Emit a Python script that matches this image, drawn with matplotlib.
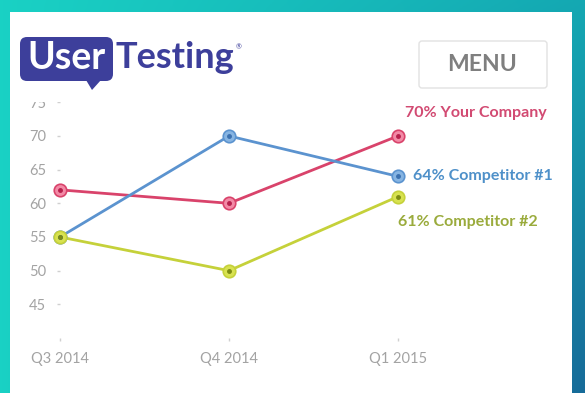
import numpy as np
import matplotlib
matplotlib.use('Agg')
import matplotlib.pyplot as plt
from matplotlib.patches import FancyBboxPatch, Polygon

# Data
quarters = ['Q3 2014', 'Q4 2014', 'Q1 2015']
your_company = [62, 60, 70]
competitor_1 = [55, 70, 64]
competitor_2 = [55, 50, 61]
series_names = ['Your Company', 'Competitor #1', 'Competitor #2']
y_ticks = [45, 50, 55, 60, 65, 70, 75]

W, H = 585, 393
plt.rcParams['font.family'] = ['Lato', 'DejaVu Sans']

fig = plt.figure(figsize=(W / 100, H / 100), dpi=100)

# Background gradient (pixel coordinates)
bg = fig.add_axes([0, 0, 1, 1])
bg.set_xlim(0, W)
bg.set_ylim(H, 0)
bg.axis('off')
gx = np.linspace(0, 1, 200)
gy = np.linspace(0, 1, 200)
X, Y = np.meshgrid(gx, gy)
c_left = np.array([0.10, 0.82, 0.77])
c_right_top = np.array([0.08, 0.66, 0.70])
c_right_bot = np.array([0.09, 0.42, 0.60])
c_right = c_right_top[None, None, :] * (1 - Y[..., None]) + c_right_bot[None, None, :] * Y[..., None]
img = c_left[None, None, :] * (1 - X[..., None]) + c_right * X[..., None]
bg.imshow(img, extent=[0, W, H, 0], aspect='auto', zorder=0)
# white card
bg.add_patch(plt.Rectangle((10, 12), 562, H - 12, facecolor='white', edgecolor='none', zorder=1))

# Chart axes
px_left, px_right = 60, 398
px_top, px_bot = 102.3, 338
ax = fig.add_axes([px_left / W, (H - px_bot) / H, (px_right - px_left) / W, (px_bot - px_top) / H])
ax.set_zorder(2)
ax.patch.set_alpha(0)
ax.set_xlim(0, len(quarters) - 1)
ax.set_ylim(40, 75)
for s in ax.spines.values():
    s.set_visible(False)
ax.set_xticks(range(len(quarters)))
ax.set_xticklabels(quarters)
ax.set_yticks(y_ticks)
ax.tick_params(axis='both', colors='#d0d0d0', labelcolor='#a3a3a3', labelsize=10.5, length=2, width=1)
ax.tick_params(axis='y', pad=8)
ax.tick_params(axis='x', pad=8)

x = np.arange(len(quarters))
line_colors = ['#d9436b', '#5b93cf', '#c5d13a']
fill_colors = ['#f28aa6', '#86b4e2', '#d8e250']
dot_colors = ['#b8204c', '#3a70b0', '#7d8c12']
label_colors = ['#d24a72', '#4e90c9', '#9aab3c']
offsets = [(5, 16.5), (11, 0), (0, -18)]

for i, vals in enumerate([your_company, competitor_1, competitor_2]):
    ax.plot(x, vals, color=line_colors[i], lw=2, zorder=3, clip_on=False, solid_capstyle='round')
    ax.plot(x, vals, 'o', ms=9, mfc=fill_colors[i], mec=line_colors[i], mew=1.2,
            zorder=4, clip_on=False)
    ax.plot(x, vals, 'o', ms=2.5, color=dot_colors[i], zorder=5, clip_on=False)
    ax.annotate(f'{vals[-1]}% {series_names[i]}', xy=(x[-1], vals[-1]),
                xytext=offsets[i], textcoords='offset points', ha='left', va='center',
                fontsize=11.5, fontweight='bold', color=label_colors[i], annotation_clip=False)

# Header (covers top of chart)
hdr = fig.add_axes([10 / W, (H - 102) / H, 562 / W, 90 / H])
hdr.set_zorder(3)
hdr.set_xlim(10, 572)
hdr.set_ylim(102, 12)
hdr.set_facecolor('white')
for s in hdr.spines.values():
    s.set_visible(False)
hdr.set_xticks([])
hdr.set_yticks([])

indigo = '#3d3f9b'
hdr.add_patch(FancyBboxPatch((20, 37), 93, 44, boxstyle='round,pad=0,rounding_size=7',
                             facecolor=indigo, edgecolor='none'))
hdr.add_patch(Polygon([[86, 80], [101, 80], [92, 90]], closed=True, facecolor=indigo, edgecolor='none'))
hdr.text(66, 58, 'User', color='white', fontsize=27, fontweight='bold', ha='center', va='center')
hdr.text(116, 58, 'Testing', color=indigo, fontsize=26, fontweight='bold', ha='left', va='center')
hdr.text(236, 47, '®', color=indigo, fontsize=5, ha='left', va='center')

hdr.add_patch(FancyBboxPatch((419, 41), 128, 47, boxstyle='round,pad=0,rounding_size=3',
                             facecolor='white', edgecolor='#e2e2e2', lw=1))
hdr.text(482, 64.5, 'MENU', color='#7f7f7f', fontsize=16.5, fontweight='bold', ha='center', va='center')

fig.savefig('out.png', dpi=100)
